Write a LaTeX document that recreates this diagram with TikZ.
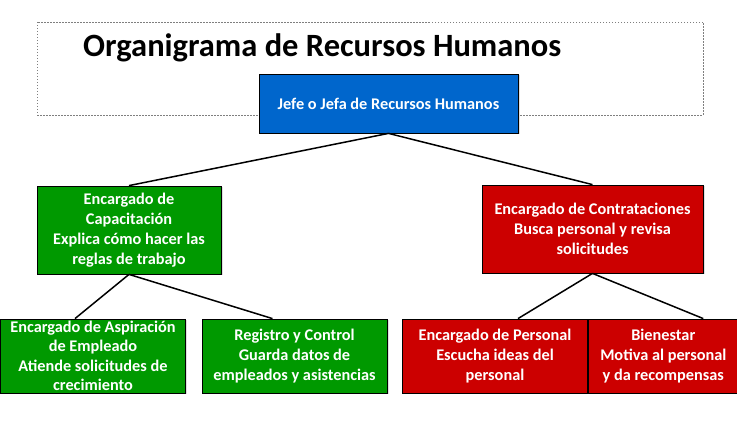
\documentclass[tikz,border=0pt]{standalone}
\usepackage{fontspec}
\setmainfont{Carlito}
\usepackage{xcolor}
\definecolor{cBoss}{HTML}{0066CC}
\definecolor{cTrain}{HTML}{009900}
\definecolor{cHire}{HTML}{CC0000}
\definecolor{cFrame}{HTML}{7F7F7F}
\usetikzlibrary{positioning,shadows}
\tikzset{
  node-box/.style={draw=black,line width=0.8pt,text=white,align=center,
    font=\bfseries\fontsize{16.3}{20}\selectfont,inner sep=2pt,
    drop shadow={opacity=0.25,shadow xshift=1.5pt,shadow yshift=-1.5pt}},
  node-boss/.style={node-box,fill=cBoss,minimum width=259pt,minimum height=59pt},
  node-green/.style={node-box,fill=cTrain},
  node-red/.style={node-box,fill=cHire},
  node-low/.style={minimum width=185pt,minimum height=74pt},
  node-title/.style={font=\bfseries\fontsize{32.5}{38}\selectfont,inner sep=0pt},
  link/.style={line width=1.5pt,draw=black},
}

\begin{document}
\begin{tikzpicture}[x=1pt,y=-1pt]
  \useasboundingbox (0,0) rectangle (737,427);
  % marco del titulo
  \draw[cFrame,line width=0.6pt,dash pattern=on 1.5pt off 1.5pt] (37,22) rectangle (703,115);
  \node[node-title,anchor=base west] (title) at (83,57) {Organigrama de Recursos Humanos};

  \node[node-boss] (boss) at (388.5,103.5) {Jefe o Jefa de Recursos Humanos};

  \node[node-green,minimum width=184pt,minimum height=88pt] (train) at (129,230)
    {Encargado de\\Capacitación\\Explica cómo hacer las\\reglas de trabajo};
  \node[node-red,minimum width=221pt,minimum height=88pt] (hire) at (592.5,229)
    {Encargado de Contrataciones\\Busca personal y revisa\\solicitudes};

  \node[node-green,node-low,inner sep=0pt,font=\bfseries\fontsize{16.3}{19.5}\selectfont] (aspire) at (93,356)
    {Encargado de Aspiración\\de Empleado\\Atiende solicitudes de\\crecimiento};
  \node[node-green,node-low] (record) at (294.5,356)
    {Registro y Control\\Guarda datos de\\empleados y asistencias};
  \node[node-red,node-low] (staff) at (495,356)
    {Encargado de Personal\\Escucha ideas del\\personal};
  \node[node-red,node-low,minimum width=150pt,right=0pt of staff] (welfare)
    {Bienestar\\Motiva al personal\\y da recompensas};

  \draw[link] (boss.south) -- (train.north);
  \draw[link] (boss.south) -- (hire.north);
  \draw[link] (train.south) -- ([xshift=-18pt]aspire.north);
  \draw[link] (train.south) -- ([xshift=-22pt]record.north);
  \draw[link] (hire.south) -- ([xshift=23pt]staff.north);
  \draw[link] (hire.south) -- ([xshift=40pt]welfare.north);
\end{tikzpicture}
\end{document}
